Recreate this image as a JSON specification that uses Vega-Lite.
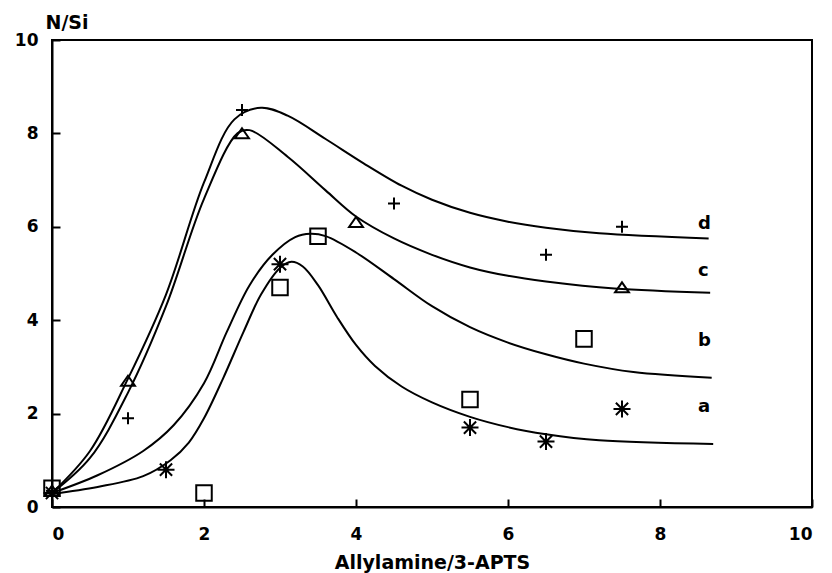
{
  "$schema": "https://vega.github.io/schema/vega-lite/v6.json",
  "width": 760,
  "height": 467,
  "autosize": "none",
  "padding": {"left": 52, "top": 40, "right": 20, "bottom": 66},
  "background": "white",
  "config": {
    "view": {"stroke": "black", "strokeWidth": 2},
    "font": "DejaVu Sans",
    "axis": {
      "grid": false,
      "domainColor": "black",
      "domainWidth": 2,
      "tickColor": "black",
      "tickWidth": 2,
      "tickSize": -8,
      "labelColor": "black",
      "labelFont": "DejaVu Sans",
      "labelFontSize": 17,
      "labelFontWeight": "bold",
      "titleColor": "black",
      "titleFont": "DejaVu Sans",
      "titleFontSize": 18,
      "titleFontWeight": "bold"
    }
  },
  "datasets": {
    "curves": [
      {"series": "d", "x": 0, "y": 0.3}, {"series": "d", "x": 0.5, "y": 1.2}, {"series": "d", "x": 1.0, "y": 2.75}, {"series": "d", "x": 1.5, "y": 4.55}, {"series": "d", "x": 2.0, "y": 6.95}, {"series": "d", "x": 2.4, "y": 8.3}, {"series": "d", "x": 2.75, "y": 8.55}, {"series": "d", "x": 3.1, "y": 8.38}, {"series": "d", "x": 3.6, "y": 7.88}, {"series": "d", "x": 4.1, "y": 7.36}, {"series": "d", "x": 4.6, "y": 6.88}, {"series": "d", "x": 5.0, "y": 6.58}, {"series": "d", "x": 5.5, "y": 6.3}, {"series": "d", "x": 6.0, "y": 6.11}, {"series": "d", "x": 6.5, "y": 5.98}, {"series": "d", "x": 7.2, "y": 5.86}, {"series": "d", "x": 8.64, "y": 5.75},
      {"series": "c", "x": 0, "y": 0.3}, {"series": "c", "x": 0.5, "y": 1.05}, {"series": "c", "x": 1.0, "y": 2.45}, {"series": "c", "x": 1.5, "y": 4.3}, {"series": "c", "x": 2.0, "y": 6.6}, {"series": "c", "x": 2.44, "y": 8.0}, {"series": "c", "x": 2.6, "y": 8.07}, {"series": "c", "x": 3.1, "y": 7.5}, {"series": "c", "x": 3.6, "y": 6.78}, {"series": "c", "x": 4.0, "y": 6.22}, {"series": "c", "x": 4.5, "y": 5.75}, {"series": "c", "x": 5.0, "y": 5.4}, {"series": "c", "x": 5.5, "y": 5.13}, {"series": "c", "x": 6.0, "y": 4.95}, {"series": "c", "x": 6.5, "y": 4.83}, {"series": "c", "x": 7.4, "y": 4.68}, {"series": "c", "x": 8.66, "y": 4.59},
      {"series": "b", "x": 0, "y": 0.3}, {"series": "b", "x": 0.6, "y": 0.68}, {"series": "b", "x": 1.2, "y": 1.2}, {"series": "b", "x": 1.6, "y": 1.75}, {"series": "b", "x": 2.0, "y": 2.65}, {"series": "b", "x": 2.3, "y": 3.75}, {"series": "b", "x": 2.6, "y": 4.75}, {"series": "b", "x": 2.9, "y": 5.4}, {"series": "b", "x": 3.2, "y": 5.78}, {"series": "b", "x": 3.4, "y": 5.85}, {"series": "b", "x": 3.6, "y": 5.8}, {"series": "b", "x": 4.0, "y": 5.45}, {"series": "b", "x": 4.5, "y": 4.88}, {"series": "b", "x": 5.0, "y": 4.3}, {"series": "b", "x": 5.5, "y": 3.85}, {"series": "b", "x": 6.0, "y": 3.52}, {"series": "b", "x": 6.5, "y": 3.27}, {"series": "b", "x": 7.0, "y": 3.07}, {"series": "b", "x": 7.65, "y": 2.89}, {"series": "b", "x": 8.68, "y": 2.77},
      {"series": "a", "x": 0, "y": 0.28}, {"series": "a", "x": 0.6, "y": 0.43}, {"series": "a", "x": 1.2, "y": 0.66}, {"series": "a", "x": 1.56, "y": 1.0}, {"series": "a", "x": 1.8, "y": 1.38}, {"series": "a", "x": 2.0, "y": 1.9}, {"series": "a", "x": 2.25, "y": 2.75}, {"series": "a", "x": 2.52, "y": 3.75}, {"series": "a", "x": 2.75, "y": 4.55}, {"series": "a", "x": 3.0, "y": 5.12}, {"series": "a", "x": 3.15, "y": 5.25}, {"series": "a", "x": 3.3, "y": 5.15}, {"series": "a", "x": 3.5, "y": 4.75}, {"series": "a", "x": 3.75, "y": 4.07}, {"series": "a", "x": 4.0, "y": 3.47}, {"series": "a", "x": 4.25, "y": 3.02}, {"series": "a", "x": 4.6, "y": 2.58}, {"series": "a", "x": 5.0, "y": 2.24}, {"series": "a", "x": 5.5, "y": 1.93}, {"series": "a", "x": 6.0, "y": 1.71}, {"series": "a", "x": 6.5, "y": 1.56}, {"series": "a", "x": 7.2, "y": 1.43}, {"series": "a", "x": 8.7, "y": 1.35}
    ],
    "points": [
      {"series": "d", "x": 0, "y": 0.35}, {"series": "d", "x": 1, "y": 1.9}, {"series": "d", "x": 2.5, "y": 8.5}, {"series": "d", "x": 4.5, "y": 6.5}, {"series": "d", "x": 6.5, "y": 5.4}, {"series": "d", "x": 7.5, "y": 6.0},
      {"series": "c", "x": 0, "y": 0.35}, {"series": "c", "x": 1, "y": 2.7}, {"series": "c", "x": 2.5, "y": 8.0}, {"series": "c", "x": 4, "y": 6.1}, {"series": "c", "x": 7.5, "y": 4.7},
      {"series": "b", "x": 0, "y": 0.4}, {"series": "b", "x": 2, "y": 0.3}, {"series": "b", "x": 3, "y": 4.7}, {"series": "b", "x": 3.5, "y": 5.8}, {"series": "b", "x": 5.5, "y": 2.3}, {"series": "b", "x": 7, "y": 3.6},
      {"series": "a", "x": 0, "y": 0.3}, {"series": "a", "x": 1.5, "y": 0.8}, {"series": "a", "x": 3, "y": 5.2}, {"series": "a", "x": 5.5, "y": 1.7}, {"series": "a", "x": 6.5, "y": 1.4}, {"series": "a", "x": 7.5, "y": 2.1}
    ],
    "labels": [
      {"series": "d", "x": 8.5, "y": 6.05}, {"series": "c", "x": 8.5, "y": 5.05}, {"series": "b", "x": 8.5, "y": 3.55}, {"series": "a", "x": 8.5, "y": 2.15}
    ]
  },
  "encoding": {
    "x": {"field": "x", "type": "quantitative", "scale": {"domain": [0, 10], "nice": false},
      "axis": {"values": [0, 2, 4, 6, 8, 10], "title": "Allylamine/3-APTS", "labelPadding": 27, "titlePadding": 11, "titleFontSize": 19}},
    "y": {"field": "y", "type": "quantitative", "scale": {"domain": [0, 10], "nice": false},
      "axis": {"values": [0, 2, 4, 6, 8, 10], "title": "N/Si", "labelPadding": 22, "titleAngle": 0, "titleAlign": "left", "titleBaseline": "alphabetic", "titleX": -7, "titleY": -12, "titleFontSize": 19}}
  },
  "layer": [
    {
      "data": {"name": "curves"},
      "mark": {"type": "line", "interpolate": "catmull-rom", "color": "black"},
      "encoding": {
        "detail": {"field": "series"},
        "strokeWidth": {"field": "series", "type": "nominal", "scale": {"domain": ["a", "b", "c", "d"], "range": [2, 2, 2, 3]}, "legend": null}
      }
    },
    {
      "data": {"name": "points"},
      "mark": {"type": "point", "filled": false, "stroke": "black", "strokeWidth": 2, "opacity": 1},
      "encoding": {
        "shape": {"field": "series", "type": "nominal", "scale": {"domain": ["a", "b", "c", "d"], "range": ["M-1,0L1,0M0,-1L0,1M-0.72,-0.72L0.72,0.72M-0.72,0.72L0.72,-0.72", "M-1,-1L1,-1L1,1L-1,1Z", "M0,-0.75L1,0.7L-1,0.7Z", "M-1,0L1,0M0,-1L0,1"]}, "legend": null},
        "size": {"field": "series", "type": "nominal", "scale": {"domain": ["a", "b", "c", "d"], "range": [289, 144, 324, 361]}, "legend": null}
      }
    },
    {
      "data": {"name": "labels"},
      "mark": {"type": "text", "align": "left", "baseline": "middle", "font": "DejaVu Sans", "fontSize": 18, "fontWeight": "bold", "color": "black"},
      "encoding": {"text": {"field": "series"}}
    }
  ]
}
